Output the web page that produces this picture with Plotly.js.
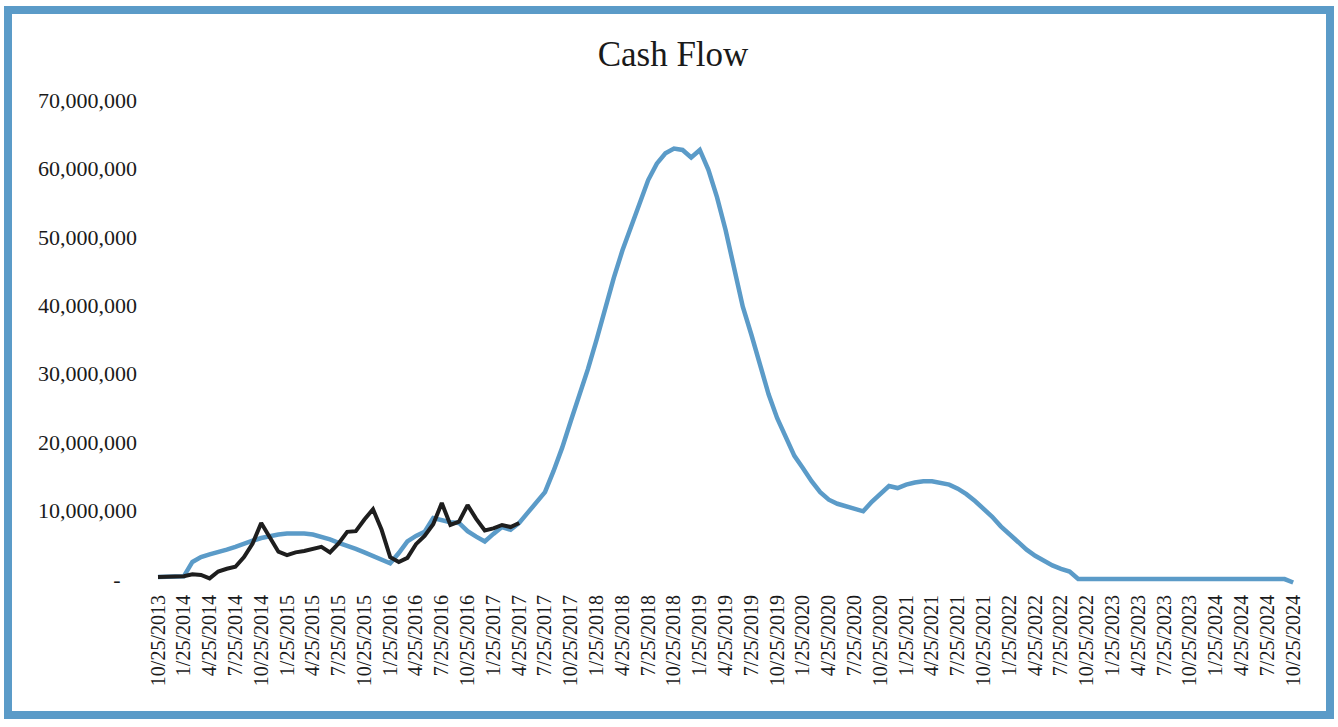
<!DOCTYPE html>
<html>
<head>
<meta charset="utf-8">
<script src="https://cdn.plot.ly/plotly-3.0.1.min.js"></script>
<style>
  html, body { margin: 0; padding: 0; background: #ffffff; }
  #chart { position: absolute; left: 0; top: 0; width: 1338px; height: 727px; }
  #frame { position: absolute; left: 4px; top: 6px; width: 1314px; height: 697px;
           border: 8px solid #5b9bc8; pointer-events: none; }
</style>
</head>
<body>
<div id="chart"></div>
<div id="frame"></div>
<script>
// Tick labels (every third month, starting 10/25/2013)
const tickLabels = [
  "10/25/2013","1/25/2014","4/25/2014","7/25/2014","10/25/2014",
  "1/25/2015","4/25/2015","7/25/2015","10/25/2015",
  "1/25/2016","4/25/2016","7/25/2016","10/25/2016",
  "1/25/2017","4/25/2017","7/25/2017","10/25/2017",
  "1/25/2018","4/25/2018","7/25/2018","10/25/2018",
  "1/25/2019","4/25/2019","7/25/2019","10/25/2019",
  "1/25/2020","4/25/2020","7/25/2020","10/25/2020",
  "1/25/2021","4/25/2021","7/25/2021","10/25/2021",
  "1/25/2022","4/25/2022","7/25/2022","10/25/2022",
  "1/25/2023","4/25/2023","7/25/2023","10/25/2023",
  "1/25/2024","4/25/2024","7/25/2024","10/25/2024"
];

// Monthly values in millions (month 0 = 10/25/2013)
const actualM = [
  0.3,0.3,0.3,0.4,0.7,0.6,0.1,1.1,1.5,1.8,
  3.2,5.2,8.2,6.0,4.0,3.5,3.9,4.1,4.4,4.7,
  3.9,5.2,6.9,7.0,8.7,10.2,7.2,3.2,2.5,3.1,
  5.1,6.3,8.0,11.1,7.9,8.4,10.8,8.8,7.1,7.4,
  7.9,7.6,8.2
];

const forecastM = [
  0.3,0.3,0.3,0.4,2.5,3.2,3.6,3.9,4.3,4.7,
  5.2,5.6,6.0,6.3,6.5,6.65,6.7,6.65,6.5,6.2,
  5.8,5.3,4.9,4.4,3.9,3.4,2.9,2.3,3.8,5.5,
  6.3,6.9,8.9,8.6,8.3,8.2,7.0,6.2,5.5,6.6,
  7.6,7.2,8.2,9.7,11.3,12.7,15.8,19.2,23.1,26.7,
  30.7,35.0,39.8,44.0,48.0,51.6,55.0,58.3,60.7,62.2,
  62.9,62.7,61.6,62.7,59.8,55.8,51.0,45.5,39.8,35.7,
  31.2,27.0,23.5,20.6,18.0,16.2,14.3,12.7,11.6,11.0,
  10.6,10.3,9.9,11.3,12.4,13.6,13.3,13.8,14.1,14.3,
  14.3,14.1,13.8,13.2,12.4,11.4,10.3,9.1,7.7,6.5,
  5.3,4.3,3.4,2.7,2.0,1.5,1.1,0.0,0.0,0.0,
  0.0,0.0,0.0,0.0,0.0,0.0,0.0,0.0,0.0,0.0,
  0.0,0.0,0.0,0.0,0.0,0.0,0.0,0.0,0.0,0.0,
  0.0,0.0,-0.5
];

const yTickVals = [0, 10000000, 20000000, 30000000, 40000000, 50000000, 60000000, 70000000];
const yTickText = ["-\u00a0\u00a0\u00a0", "10,000,000", "20,000,000", "30,000,000", "40,000,000", "50,000,000", "60,000,000", "70,000,000"];

const toUnits = a => a.map(v => v * 1000000);
const idx = a => a.map((_, i) => i);
const tickVals = tickLabels.map((_, i) => i * 3);

const serif = "Liberation Serif, Times New Roman, serif";

const traces = [
  {
    x: idx(forecastM), y: toUnits(forecastM), type: "scatter", mode: "lines",
    line: { color: "#5b9bc8", width: 4.5 }, hoverinfo: "skip", name: "Forecast"
  },
  {
    x: idx(actualM), y: toUnits(actualM), type: "scatter", mode: "lines",
    line: { color: "#1e1e1e", width: 4 }, hoverinfo: "skip", name: "Actual"
  }
];

const layout = {
  width: 1338, height: 727,
  paper_bgcolor: "rgba(0,0,0,0)", plot_bgcolor: "rgba(0,0,0,0)",
  margin: { l: 150, r: 40, t: 90, b: 137 },
  showlegend: false,
  title: {
    text: "Cash Flow",
    font: { family: serif, size: 35, color: "#1a1a1a" },
    x: 0.503, xanchor: "center", xref: "container",
    y: 0.926, yanchor: "middle", yref: "container"
  },
  xaxis: {
    range: [-0.93, 132.56],
    tickmode: "array", tickvals: tickVals, ticktext: tickLabels,
    tickangle: -90, ticks: "", showgrid: false, zeroline: false, showline: false,
    tickfont: { family: serif, size: 20, color: "#1a1a1a" },
    fixedrange: true
  },
  yaxis: {
    range: [-1600000, 71460000],
    tickmode: "array", tickvals: yTickVals, ticktext: yTickText,
    ticks: "", showgrid: false, zeroline: false, showline: false,
    tickfont: { family: serif, size: 22, color: "#1a1a1a" },
    ticklabelstandoff: 12,
    fixedrange: true
  }
};

Plotly.newPlot("chart", traces, layout, { displayModeBar: false, staticPlot: true });
</script>
</body>
</html>
